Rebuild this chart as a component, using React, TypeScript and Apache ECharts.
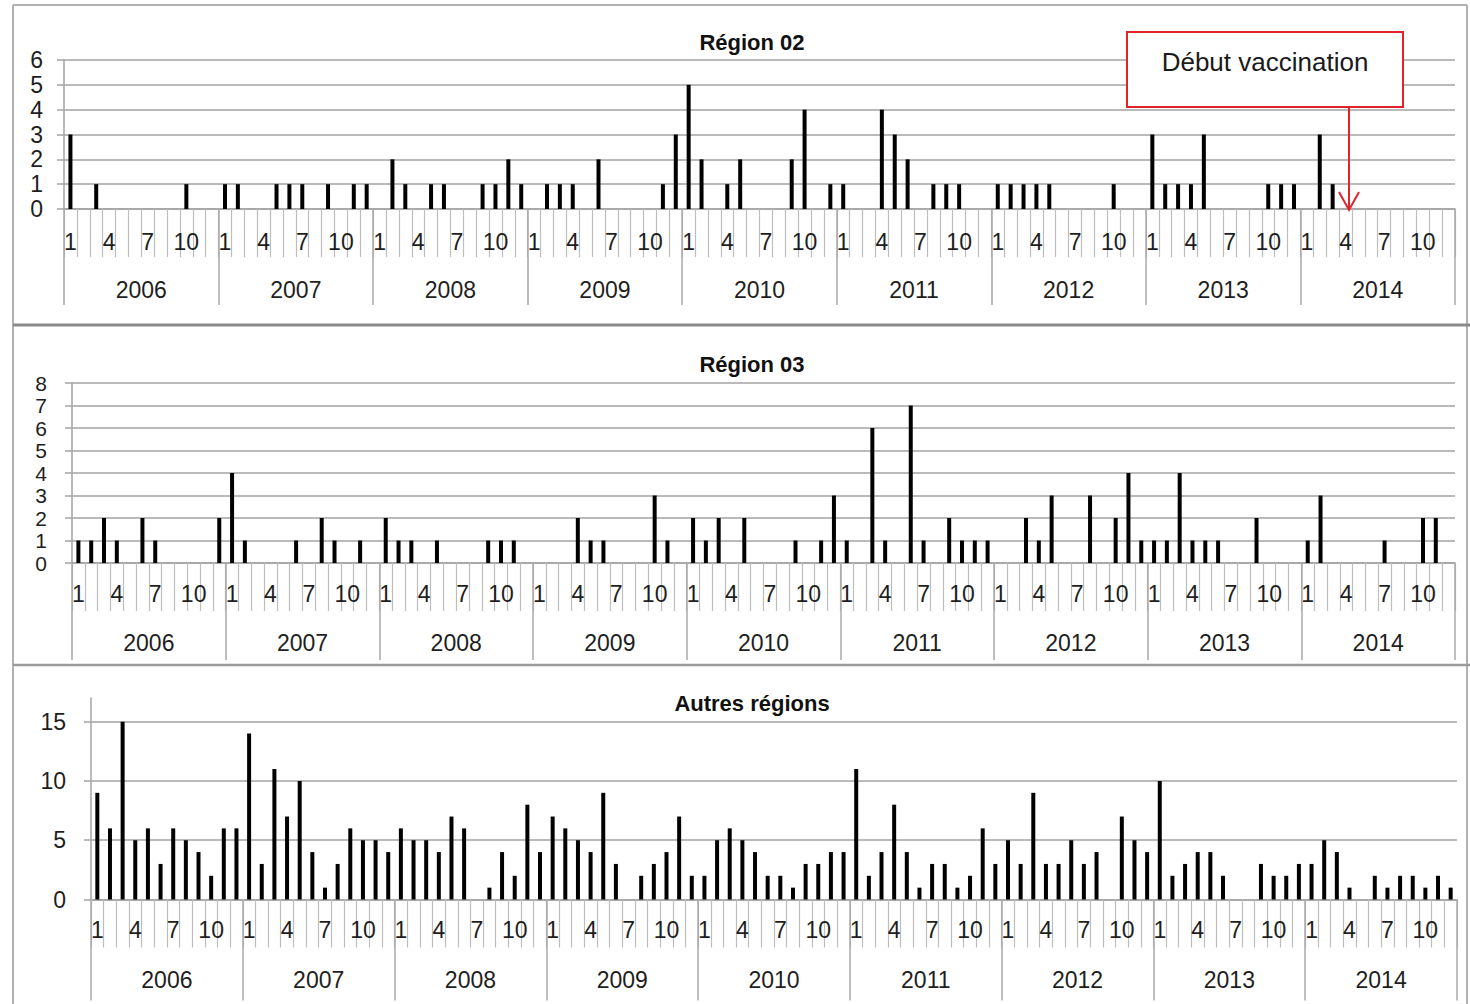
import React, { useEffect, useRef } from "react";
import * as echarts from "echarts";

// ---- Data (monthly counts, Jan 2006 .. Dec 2014) ----
const years = ["2006", "2007", "2008", "2009", "2010", "2011", "2012", "2013", "2014"];
const monthNumbers = ["1", "2", "3", "4", "5", "6", "7", "8", "9", "10", "11", "12"];
const shownMonthLabels = ["1", "4", "7", "10"];

const region02 = [
  3, 0, 1, 0, 0, 0, 0, 0, 0, 1, 0, 0, // 2006
  1, 1, 0, 0, 1, 1, 1, 0, 1, 0, 1, 1, // 2007
  0, 2, 1, 0, 1, 1, 0, 0, 1, 1, 2, 1, // 2008
  0, 1, 1, 1, 0, 2, 0, 0, 0, 0, 1, 3, // 2009
  5, 2, 0, 1, 2, 0, 0, 0, 2, 4, 0, 1, // 2010
  1, 0, 0, 4, 3, 2, 0, 1, 1, 1, 0, 0, // 2011
  1, 1, 1, 1, 1, 0, 0, 0, 0, 1, 0, 0, // 2012
  3, 1, 1, 1, 3, 0, 0, 0, 0, 1, 1, 1, // 2013
  0, 3, 1, 0, 0, 0, 0, 0, 0, 0, 0, 0, // 2014
];

const region03 = [
  1, 1, 2, 1, 0, 2, 1, 0, 0, 0, 0, 2, // 2006
  4, 1, 0, 0, 0, 1, 0, 2, 1, 0, 1, 0, // 2007
  2, 1, 1, 0, 1, 0, 0, 0, 1, 1, 1, 0, // 2008
  0, 0, 0, 2, 1, 1, 0, 0, 0, 3, 1, 0, // 2009
  2, 1, 2, 0, 2, 0, 0, 0, 1, 0, 1, 3, // 2010
  1, 0, 6, 1, 0, 7, 1, 0, 2, 1, 1, 1, // 2011
  0, 0, 2, 1, 3, 0, 0, 3, 0, 2, 4, 1, // 2012
  1, 1, 4, 1, 1, 1, 0, 0, 2, 0, 0, 0, // 2013
  1, 3, 0, 0, 0, 0, 1, 0, 0, 2, 2, 0, // 2014
];

const autresRegions = [
  9, 6, 15, 5, 6, 3, 6, 5, 4, 2, 6, 6, // 2006
  14, 3, 11, 7, 10, 4, 1, 3, 6, 5, 5, 4, // 2007
  6, 5, 5, 4, 7, 6, 0, 1, 4, 2, 8, 4, // 2008
  7, 6, 5, 4, 9, 3, 0, 2, 3, 4, 7, 2, // 2009
  2, 5, 6, 5, 4, 2, 2, 1, 3, 3, 4, 4, // 2010
  11, 2, 4, 8, 4, 1, 3, 3, 1, 2, 6, 3, // 2011
  5, 3, 9, 3, 3, 5, 3, 4, 0, 7, 5, 4, // 2012
  10, 2, 3, 4, 4, 2, 0, 0, 3, 2, 2, 3, // 2013
  3, 5, 4, 1, 0, 2, 1, 2, 2, 1, 2, 1, // 2014
];

const panelTitles = ["Région 02", "Région 03", "Autres régions"];
const panelSeries = [region02, region03, autresRegions];
const yMaxes = [6, 8, 17];
const yIntervals = [1, 1, 5];
const autresTicks = [0, 5, 10, 15];
const annotationText = "Début vaccination";
const vaccinationMonth = "2014-4";

// ---- Layout / style ----
const FONT = "'Liberation Sans', Arial, Helvetica, sans-serif";
const GRID_COLOR = "#a3a3a3";
const TEXT_COLOR = "#1e1e1e";
const grids = [
  { left: 64, top: 60, width: 1391, height: 149 },
  { left: 72, top: 383, width: 1383, height: 180 },
  { left: 91, top: 698, width: 1366, height: 201.5 },
];
const titleTops = [31, 353, 692];
const yLabelMargins = [21, 25, 25];
const yLabelSizes = [23, 21, 23];
const monthLabelMargins = [21, 19, 19];
const yearLabelMargins = [69, 68, 69];
const yearTickLengths = [96, 97, 101];

const monthCategories = years.flatMap((y) => monthNumbers.map((m) => `${y}-${m}`));

export default function App() {
  const ref = useRef<HTMLDivElement>(null);

  useEffect(() => {
    if (!ref.current) return;
    const chart = echarts.init(ref.current, undefined, { renderer: "svg" });

    const xAxis: any[] = [];
    const yAxis: any[] = [];
    const series: any[] = [];
    const title: any[] = [];

    for (let i = 0; i < 3; i++) {
      title.push({
        text: panelTitles[i],
        left: 752,
        textAlign: "center",
        top: titleTops[i],
        padding: 0,
        textStyle: { fontFamily: FONT, fontSize: 22, fontWeight: "bold", color: "#111" },
      });
      // month axis
      xAxis.push({
        type: "category",
        gridIndex: i,
        data: monthCategories,
        boundaryGap: true,
        axisLine: { show: true, lineStyle: { color: GRID_COLOR, width: 1.5 } },
        axisTick: { show: true, interval: 0, length: 48, lineStyle: { color: "#bdbdbd", width: 1.2 } },
        axisLabel: {
          interval: (idx: number) => shownMonthLabels.includes(monthCategories[idx].split("-")[1]),
          formatter: (v: string) => v.split("-")[1],
          margin: monthLabelMargins[i],
          fontSize: 23,
          fontFamily: FONT,
          color: TEXT_COLOR,
          hideOverlap: false,
        },
        splitLine: { show: false },
      });
      // year axis
      xAxis.push({
        type: "category",
        gridIndex: i,
        data: years,
        position: "bottom",
        boundaryGap: true,
        axisLine: { show: false },
        axisTick: { show: true, interval: 0, length: yearTickLengths[i], lineStyle: { color: "#a8a8a8", width: 1.5 } },
        axisLabel: {
          interval: 0,
          margin: yearLabelMargins[i],
          fontSize: 23,
          fontFamily: FONT,
          color: TEXT_COLOR,
        },
        splitLine: { show: false },
      });
      const isAutres = i === 2;
      yAxis.push({
        type: "value",
        gridIndex: i,
        min: 0,
        max: yMaxes[i],
        interval: yIntervals[i],
        axisLine: { show: true, lineStyle: { color: GRID_COLOR, width: 1.5 } },
        axisTick: {
          show: true,
          length: 7,
          lineStyle: { color: GRID_COLOR, width: 1.5 },
          ...(isAutres ? { customValues: autresTicks } : {}),
        },
        axisLabel: {
          margin: yLabelMargins[i],
          fontSize: yLabelSizes[i],
          lineHeight: yLabelSizes[i],
          fontFamily: FONT,
          color: TEXT_COLOR,
          hideOverlap: false,
          showMinLabel: true,
          showMaxLabel: true,
          formatter: (v: number) => (isAutres && !autresTicks.includes(v) ? "" : String(v)),
          ...(isAutres ? { customValues: autresTicks } : {}),
        },
        splitLine: {
          show: true,
          showMaxLine: true,
          lineStyle: { color: GRID_COLOR, width: 1.5 },
        },
      });
      series.push({
        type: "bar",
        xAxisIndex: i * 2,
        yAxisIndex: i,
        data: panelSeries[i],
        barWidth: 4,
        itemStyle: { color: "#000" },
        silent: true,
      });
    }

    chart.setOption({
      animation: false,
      backgroundColor: "#fff",
      title,
      grid: grids.map((g) => ({ ...g, containLabel: false })),
      xAxis,
      yAxis,
      series,
    });

    const monthIdx = monthCategories.indexOf(vaccinationMonth);
    const p = chart.convertToPixel({ seriesIndex: 0 }, [monthIdx, 0]) as number[];
    const ax = Math.round(p[0]) + 3;
    const ay = p[1];
    const boxX = 1127, boxY = 32, boxW = 276, boxH = 75;
    const red = "#e0232d";

    chart.setOption({
      graphic: [
        // frame
        { type: "line", shape: { x1: 13, y1: 5, x2: 1467, y2: 5 }, style: { stroke: "#b0b0b0", lineWidth: 2 } },
        { type: "line", shape: { x1: 13, y1: 5, x2: 13, y2: 1004 }, style: { stroke: "#b0b0b0", lineWidth: 2 } },
        { type: "line", shape: { x1: 1467, y1: 5, x2: 1467, y2: 1004 }, style: { stroke: "#b0b0b0", lineWidth: 2 } },
        { type: "line", shape: { x1: 13, y1: 325, x2: 1470, y2: 325 }, style: { stroke: "#8a8a8a", lineWidth: 3 } },
        { type: "line", shape: { x1: 13, y1: 665, x2: 1470, y2: 665 }, style: { stroke: "#9a9a9a", lineWidth: 2.5 } },
        // annotation
        {
          type: "rect",
          shape: { x: boxX, y: boxY, width: boxW, height: boxH },
          style: { fill: "#fff", stroke: red, lineWidth: 2 },
          z: 10,
        },
        {
          type: "text",
          x: boxX + boxW / 2,
          y: 62,
          style: {
            text: annotationText,
            fontFamily: FONT,
            fontSize: 26,
            fill: "#1a1a1a",
            align: "center",
            verticalAlign: "middle",
          },
          z: 11,
        },
        { type: "line", shape: { x1: ax, y1: boxY + boxH, x2: ax, y2: ay + 1 }, style: { stroke: red, lineWidth: 2 }, z: 10 },
        {
          type: "polyline",
          shape: { points: [[ax - 10, ay - 17], [ax, ay + 1], [ax + 10, ay - 17]] },
          style: { stroke: red, lineWidth: 2, fill: "none" },
          z: 10,
        },
      ],
    });

    return () => chart.dispose();
  }, []);

  return (
    <div
      ref={ref}
      style={{ position: "absolute", left: 0, top: 0, width: 1470, height: 1004, background: "#fff" }}
    />
  );
}
